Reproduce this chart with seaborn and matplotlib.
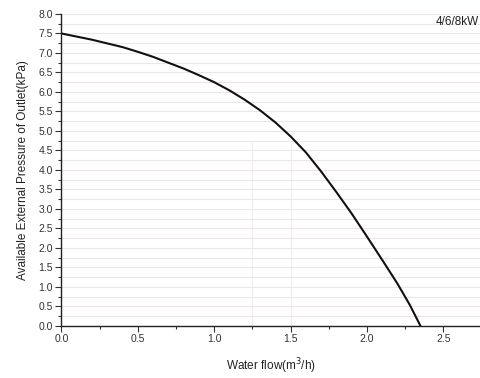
import numpy as np
import pandas as pd
import matplotlib
matplotlib.use("Agg")
import matplotlib.pyplot as plt
import seaborn as sns
from matplotlib.ticker import MultipleLocator, FormatStrFormatter

# values
flow = [0.0, 0.2, 0.4, 0.5, 0.6, 0.8, 0.9, 1.0, 1.1, 1.2, 1.3, 1.4, 1.5,
        1.6, 1.7, 1.8, 1.9, 2.0, 2.1, 2.2, 2.28, 2.35]
pressure = [7.5, 7.34, 7.15, 7.03, 6.90, 6.60, 6.43, 6.25, 6.04, 5.80, 5.53, 5.22, 4.86,
            4.45, 3.96, 3.43, 2.88, 2.29, 1.69, 1.08, 0.54, 0.0]
model = "4/6/8kW"

df = pd.DataFrame({"flow": flow, "pressure": pressure})

sns.set_style("ticks")
plt.rcParams["font.family"] = ["Liberation Sans", "DejaVu Sans"]

fig = plt.figure(figsize=(4.8, 3.78), dpi=100)
ax = fig.add_axes([0.128, 0.138, 0.872, 0.825])

# faint horizontal grid every 0.25
for yv in np.arange(0.25, 8.01, 0.25):
    ax.axhline(yv, color="#ece6e6", lw=0.8, zorder=0)
ax.axvline(1.25, ymax=4.7/8, color="#eeeeee", lw=0.8, zorder=0)
ax.axvline(1.5, ymax=4.7/8, color="#eeeeee", lw=0.8, zorder=0)

sns.lineplot(data=df, x="flow", y="pressure", sort=False, color="#111111", lw=1.5, ax=ax)

ax.set_xlim(0, 2.74)
ax.set_ylim(0, 8.0)
ax.xaxis.set_major_locator(MultipleLocator(0.5))
ax.xaxis.set_minor_locator(MultipleLocator(0.25))
ax.yaxis.set_major_locator(MultipleLocator(0.5))
ax.yaxis.set_minor_locator(MultipleLocator(0.25))
ax.tick_params(which="major", length=4, width=0.8, labelsize=7.5, colors="#333333", pad=2)
ax.tick_params(which="minor", length=2.5, width=0.8, colors="#333333")
ax.xaxis.set_major_formatter(FormatStrFormatter("%.1f"))
ax.yaxis.set_major_formatter(FormatStrFormatter("%.1f"))

sns.despine(ax=ax)
for s in ("left", "bottom"):
    ax.spines[s].set_color("#222222")
    ax.spines[s].set_linewidth(1.0)

ax.set_xlabel("Water flow(m$^3$/h)", fontsize=8.5, color="#222222", labelpad=9)
ax.set_ylabel("Available External Pressure of Outlet(kPa)", fontsize=8.5, color="#222222", labelpad=7)
ax.text(0.997, 0.975, model, transform=ax.transAxes, ha="right", va="center", fontsize=8.5, color="#222222")

fig.savefig("out.png", dpi=100)
